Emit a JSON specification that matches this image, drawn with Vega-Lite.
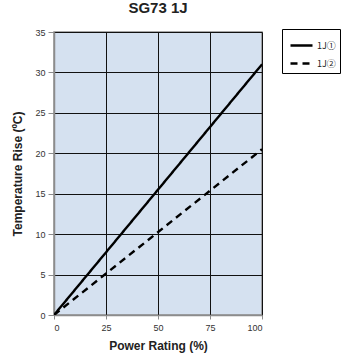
{
  "$schema": "https://vega.github.io/schema/vega-lite/v6.json",
  "width": 208,
  "height": 283,
  "autosize": {"type": "none"},
  "padding": {"left": 54, "top": 32, "right": 80, "bottom": 45},
  "background": "white",
  "config": {
    "font": "Liberation Sans",
    "view": {"fill": "#d5e1f0", "stroke": "#8c8c8c", "strokeWidth": 1.5}
  },
  "title": {
    "text": "SG73 1J",
    "fontSize": 15,
    "fontWeight": "bold",
    "color": "#222",
    "anchor": "middle",
    "offset": 12
  },
  "data": {
    "values": [
      {"power": 0, "rise": 0, "series": "1J①"},
      {"power": 100, "rise": 31, "series": "1J①"},
      {"power": 0, "rise": 0, "series": "1J②"},
      {"power": 100, "rise": 20.5, "series": "1J②"}
    ]
  },
  "mark": {"type": "line", "color": "black", "strokeWidth": 2.4, "clip": true},
  "encoding": {
    "x": {
      "field": "power",
      "type": "quantitative",
      "scale": {"domain": [0, 100], "nice": false},
      "axis": {
        "values": [0, 25, 50, 75, 100],
        "title": "Power Rating (%)",
        "titleFontSize": 12,
        "titleFontWeight": "bold",
        "titleColor": "#222",
        "titlePadding": 8,
        "labelFontSize": 9,
        "labelColor": "#333",
        "labelPadding": 4,
        "domainColor": "#8c8c8c",
        "domainWidth": 1.5,
        "tickColor": "#8c8c8c",
        "tickSize": 4,
        "gridColor": "#111",
        "gridWidth": 1,
        "gridOpacity": 1
      }
    },
    "y": {
      "field": "rise",
      "type": "quantitative",
      "scale": {"domain": [0, 35], "nice": false},
      "axis": {
        "values": [0, 5, 10, 15, 20, 25, 30, 35],
        "title": "Temperature Rise (ºC)",
        "titleFontSize": 12,
        "titleFontWeight": "bold",
        "titleColor": "#222",
        "titlePadding": 10,
        "labelFontSize": 9,
        "labelColor": "#333",
        "labelPadding": 3,
        "domainColor": "#8c8c8c",
        "domainWidth": 1.5,
        "tickColor": "#8c8c8c",
        "tickSize": 6,
        "gridColor": "#111",
        "gridWidth": 1,
        "gridOpacity": 1
      }
    },
    "strokeDash": {
      "field": "series",
      "type": "nominal",
      "scale": {"domain": ["1J①", "1J②"], "range": [[1, 0], [7, 5]]},
      "legend": {
        "title": null,
        "orient": "none",
        "legendX": 228,
        "legendY": -3,
        "strokeColor": "black",
        "fillColor": "white",
        "padding": 4,
        "symbolOffset": 3,
        "symbolType": "stroke",
        "symbolSize": 484,
        "symbolStrokeWidth": 2.4,
        "symbolStrokeColor": "black",
        "labelFont": "Noto Sans CJK JP",
        "labelFontSize": 9,
        "labelColor": "#222",
        "labelOffset": 3,
        "rowPadding": -1
      }
    }
  }
}
